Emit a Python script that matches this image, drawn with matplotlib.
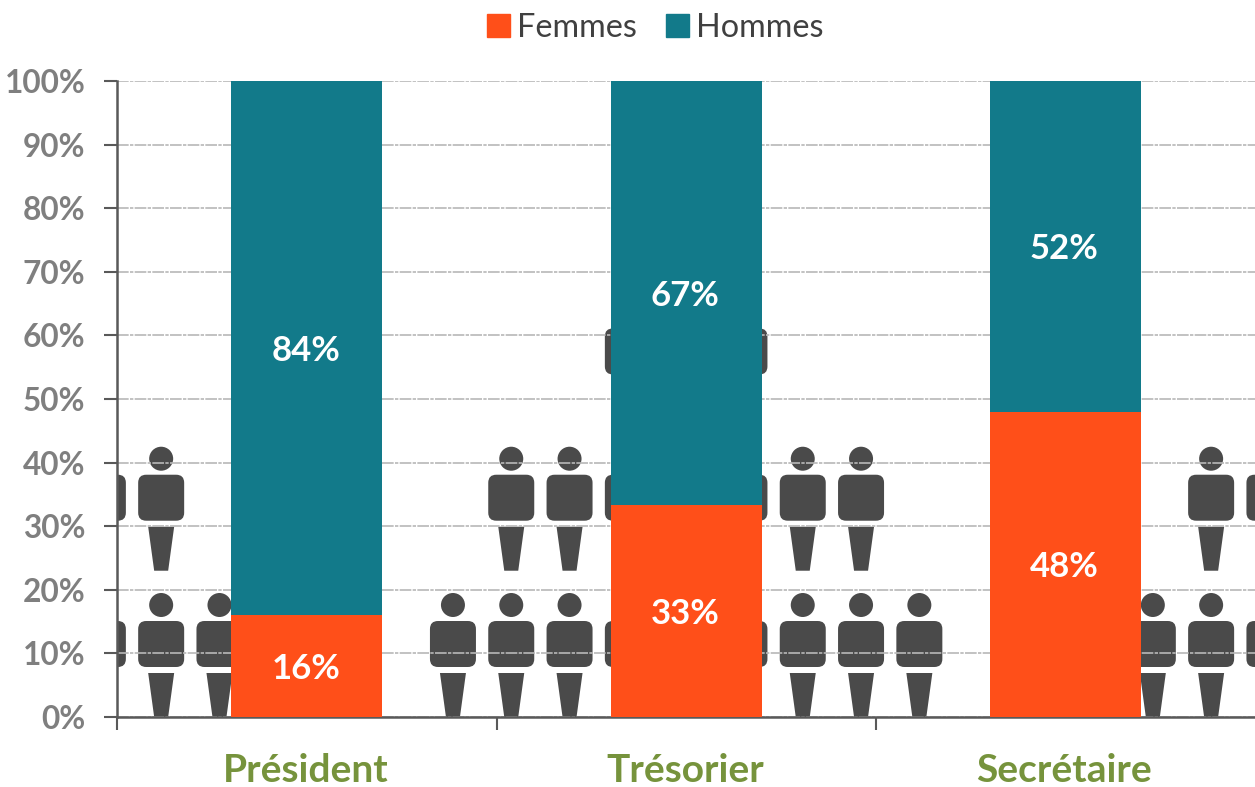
import matplotlib
matplotlib.use("Agg")
import matplotlib.pyplot as plt
import numpy as np
from matplotlib.patches import Circle, FancyBboxPatch, Patch, Polygon
from matplotlib.transforms import Affine2D

categories = ["Président", "Trésorier", "Secrétaire"]
femmes = [16, 33.3, 48]
hommes = [84, 66.7, 52]
yticks = [0, 10, 20, 30, 40, 50, 60, 70, 80, 90, 100]

ORANGE = "#FF4F19"
TEAL = "#127A8A"
GREEN = "#76933C"
GREY = "#7F7F7F"
AXIS = "#595959"
ICON = "#4A4A4A"

# background icons: group index, row, column offsets from the bar centre
icon_rows = [
    (0, 0, [-3.5, -2.5, -1.5]),
    (0, 1, [-3.5, -2.5]),
    (1, 0, [-4, -3, -2, -1, 1, 2, 3, 4]),
    (1, 1, [-3, -2, -1, 1, 2, 3]),
    (1, 2, [-1, 1]),
    (2, 0, [1.5, 2.5, 3.5]),
    (2, 1, [2.5, 3.5]),
]

plt.rcParams["font.family"] = ["Lato", "DejaVu Sans"]


def draw_person(ax, x, y, px_x, px_y):
    # shape is written in pixels, feet at the origin
    tr = Affine2D().scale(px_x, px_y).translate(x, y) + ax.transData
    ax.add_patch(Circle((0, 112), 12, fc=ICON, ec="none", transform=tr, zorder=1))
    ax.add_patch(
        FancyBboxPatch(
            (-18, 55),
            36,
            36,
            boxstyle="round,pad=5,rounding_size=8",
            fc=ICON,
            ec="none",
            transform=tr,
            zorder=1,
        )
    )
    ax.add_patch(
        Polygon(
            [(-7, 0), (7, 0), (13, 44), (-13, 44)],
            fc=ICON,
            ec="none",
            transform=tr,
            zorder=1,
        )
    )


def main():
    fig = plt.figure(figsize=(12.55, 7.87), dpi=100, facecolor="white")
    ax = fig.add_axes([117.3 / 1255, 1 - 717 / 787, (1255 - 117.3) / 1255, 636 / 787])

    x = np.arange(len(categories))
    ax.set_xlim(-0.5, 2.5)
    ax.set_ylim(0, 100)

    px_x = 3 / (1255 - 117.3)
    px_y = 100 / 636
    for group, row, offsets in icon_rows:
        for off in offsets:
            draw_person(ax, x[group] + off * 58.3 * px_x, row * 23, px_x, px_y)

    width = 151 * px_x
    ax.bar(x, femmes, width, color=ORANGE, zorder=3, label="Femmes")
    ax.bar(x, hommes, width, bottom=femmes, color=TEAL, zorder=3, label="Hommes")

    for i in x:
        for val, base in ((femmes[i], 0), (hommes[i], femmes[i])):
            ax.annotate(
                f"{val:.0f}%",
                (i, base + val / 2),
                xytext=(-1, -3),
                textcoords="offset pixels",
                ha="center",
                va="center",
                color="white",
                fontsize=25,
                fontweight="bold",
                zorder=4,
            )

    ax.set_yticks(yticks)
    ax.set_yticklabels([f"{t}%" for t in yticks])
    ax.set_xticks([-0.5, 0.5, 1.5])
    ax.set_xticklabels([])
    for i, name in zip(x, categories):
        ax.annotate(
            name,
            (i, 0),
            xytext=(-1, -54),
            textcoords="offset pixels",
            ha="center",
            va="center",
            color=GREEN,
            fontsize=28,
            fontweight="bold",
            annotation_clip=False,
        )

    ax.tick_params(axis="y", length=9.4, width=1.5, color=AXIS, labelcolor=GREY, labelsize=22.8, pad=13.5)
    for lab in ax.get_yticklabels():
        lab.set_fontweight("bold")
    ax.tick_params(axis="x", length=9.4, width=1.5, color=AXIS)

    ax.grid(True, axis="y", color="#B8B8B8", linestyle=(0, (7, 0.8, 2, 0.8)), linewidth=1.2)
    ax.set_axisbelow("line")
    ax.spines["top"].set_visible(False)
    ax.spines["right"].set_visible(False)
    ax.spines["left"].set_color(AXIS)
    ax.spines["bottom"].set_color(AXIS)
    ax.spines["left"].set_linewidth(1.8)
    ax.spines["bottom"].set_linewidth(1.8)

    handles = [Patch(color=ORANGE, label="Femmes"), Patch(color=TEAL, label="Hommes")]
    fig.legend(
        handles=handles,
        loc="center",
        bbox_to_anchor=(655 / 1255, 1 - 28 / 787),
        ncol=2,
        frameon=False,
        fontsize=23.3,
        labelcolor="#404040",
        handlelength=0.72,
        handleheight=0.72,
        handletextpad=0.2,
        columnspacing=0.9,
    )

    fig.savefig("out.png", dpi=100, facecolor="white")
    plt.close(fig)


if __name__ == "__main__":
    main()
